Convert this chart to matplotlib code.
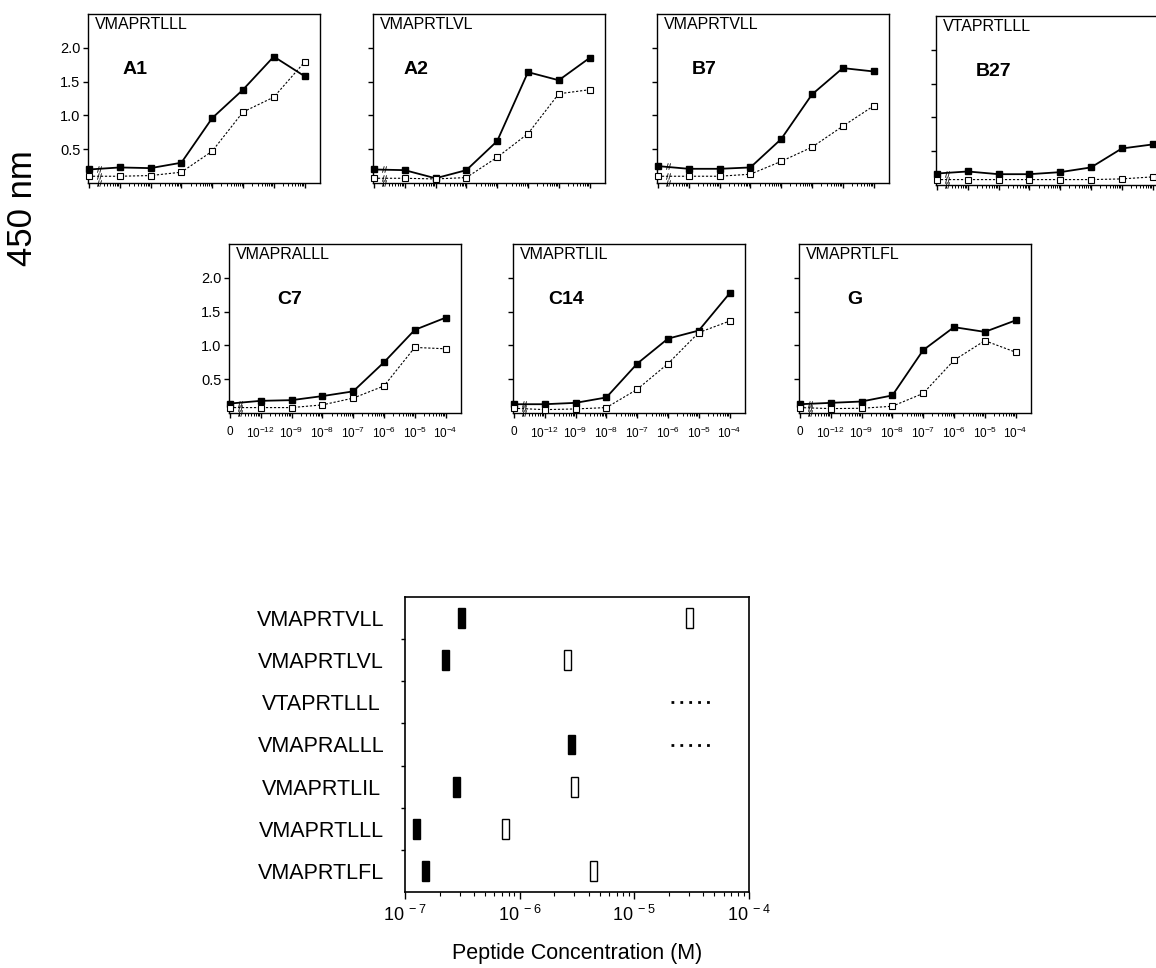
import numpy as np
import matplotlib.pyplot as plt

plt.rcParams['font.family'] = ['Liberation Sans', 'DejaVu Sans']
plt.rcParams['mathtext.fontset'] = 'custom'
plt.rcParams['mathtext.rm'] = 'Liberation Sans'
plt.rcParams['mathtext.it'] = 'Liberation Sans:italic'
plt.rcParams['mathtext.bf'] = 'Liberation Sans:bold'

# x categories of the titration panels
conc_labels = ['0', '$10^{-12}$', '$10^{-9}$', '$10^{-8}$', '$10^{-7}$',
               '$10^{-6}$', '$10^{-5}$', '$10^{-4}$']

# panel names / peptides
panel_names = ['A1', 'A2', 'B7', 'B27', 'C7', 'C14', 'G']
panel_peptides = ['VMAPRTLLL', 'VMAPRTLVL', 'VMAPRTVLL', 'VTAPRTLLL',
                  'VMAPRALLL', 'VMAPRTLIL', 'VMAPRTLFL']

# OD 450 nm, filled squares (solid) and open squares (dotted)
a1_filled = [0.20, 0.23, 0.22, 0.30, 0.96, 1.38, 1.87, 1.58]
a1_open = [0.10, 0.10, 0.11, 0.16, 0.47, 1.05, 1.27, 1.79]
a2_filled = [0.20, 0.19, 0.07, 0.19, 0.62, 1.64, 1.52, 1.85]
a2_open = [0.07, 0.07, 0.06, 0.08, 0.38, 0.73, 1.32, 1.38]
b7_filled = [0.25, 0.21, 0.21, 0.23, 0.65, 1.31, 1.70, 1.65]
b7_open = [0.10, 0.10, 0.10, 0.13, 0.32, 0.53, 0.84, 1.14]
b27_filled = [0.17, 0.20, 0.16, 0.16, 0.19, 0.26, 0.54, 0.60]
b27_open = [0.08, 0.08, 0.08, 0.08, 0.08, 0.08, 0.09, 0.12]
c7_filled = [0.14, 0.18, 0.19, 0.25, 0.32, 0.75, 1.23, 1.41]
c7_open = [0.08, 0.08, 0.08, 0.12, 0.22, 0.40, 0.97, 0.95]
c14_filled = [0.13, 0.13, 0.15, 0.23, 0.73, 1.10, 1.22, 1.77]
c14_open = [0.07, 0.05, 0.06, 0.08, 0.35, 0.73, 1.19, 1.36]
g_filled = [0.13, 0.15, 0.17, 0.26, 0.93, 1.27, 1.20, 1.37]
g_open = [0.08, 0.065, 0.07, 0.10, 0.29, 0.78, 1.07, 0.90]

filled_series = [a1_filled, a2_filled, b7_filled, b27_filled, c7_filled, c14_filled, g_filled]
open_series = [a1_open, a2_open, b7_open, b27_open, c7_open, c14_open, g_open]

# bottom chart: concentration for half-max response
bar_peptides = ['VMAPRTVLL', 'VMAPRTLVL', 'VTAPRTLLL', 'VMAPRALLL',
                'VMAPRTLIL', 'VMAPRTLLL', 'VMAPRTLFL']
filled_conc = [3.1e-7, 2.26e-7, np.nan, 2.85e-6, 2.83e-7, 1.25e-7, 1.5e-7]
open_conc = [3.03e-5, 2.6e-6, np.nan, np.nan, 3.0e-6, 7.5e-7, 4.43e-6]
dotted_start = [np.nan, np.nan, 2.1e-5, 2.1e-5, np.nan, np.nan, np.nan]
dotted_end = [np.nan, np.nan, 4.7e-5, 4.7e-5, np.nan, np.nan, np.nan]

W, H = 1156, 968
fig = plt.figure(figsize=(W / 100, H / 100), dpi=100)


def rect(x0, y0, w, h):
    return [x0 / W, 1 - (y0 + h) / H, w / W, h / H]


panel_pos = [(88, 14), (373, 14), (657, 14), (936, 16),
             (229, 244), (513, 244), (799, 244)]
label_x = [0.15, 0.13, 0.15, 0.17, 0.21, 0.15, 0.21]

x = np.arange(len(conc_labels))
minor = [i + np.log10(k) for i in range(7) for k in range(2, 10)]

for i in range(7):
    ax = fig.add_axes(rect(panel_pos[i][0], panel_pos[i][1], 232, 169))
    ax.plot(x, filled_series[i], '-', color='k', lw=1.3, marker='s', ms=4.5,
            mfc='k', mec='k', clip_on=False, zorder=3)
    ax.plot(x, open_series[i], ls=(0, (2, 1.6)), color='k', lw=0.8, marker='s',
            ms=4, mfc='white', mec='k', mew=0.8, clip_on=False, zorder=3)
    # axis break marks on the first segment of each line and on the x axis
    ax.plot([0.32, 0.32, 0.32], [filled_series[i][0], open_series[i][0], 0],
            ls='none', marker='$//$', ms=4.5, color='k', mew=0.1,
            clip_on=False, zorder=4)

    ax.set_xlim(-0.03, 7.5)
    ax.set_ylim(0, 2.5)
    ax.set_xticks(x)
    ax.set_xticks(minor, minor=True)
    ax.set_yticks([0.5, 1.0, 1.5, 2.0])
    ax.tick_params(axis='both', which='major', direction='out', length=3.5,
                   width=1, pad=2, labelsize=10.5)
    ax.tick_params(axis='x', which='minor', direction='out', length=2, width=0.7)
    if i in (0, 4):
        ax.set_yticklabels(['0.5', '1.0', '1.5', '2.0'])
    else:
        ax.set_yticklabels([])
    if i >= 4:
        ax.set_xticklabels(conc_labels, fontsize=8.5)
        ax.tick_params(axis='x', which='major', pad=6)
    else:
        ax.set_xticklabels([])
    for s in ax.spines.values():
        s.set_linewidth(1)
    ax.text(0.03, 0.985, panel_peptides[i], transform=ax.transAxes,
            fontsize=11.5, ha='left', va='top')
    ax.text(label_x[i], 0.67, panel_names[i], transform=ax.transAxes,
            fontsize=14, fontweight='bold', ha='left', va='center')

fig.text(23 / W, 1 - 208 / H, '450 nm', rotation=90, fontsize=25,
         ha='center', va='center')

# bottom chart
bx = fig.add_axes(rect(405, 597, 344, 295))
bx.set_xscale('log')
rows = np.arange(len(bar_peptides))
hw = 0.03
fc = np.array(filled_conc)
oc = np.array(open_conc)
m = ~np.isnan(fc)
bx.barh(rows[m], fc[m] * (10 ** hw - 10 ** -hw), left=fc[m] * 10 ** -hw,
        height=0.47, color='k', edgecolor='k', lw=1)
m = ~np.isnan(oc)
bx.barh(rows[m], oc[m] * (10 ** hw - 10 ** -hw), left=oc[m] * 10 ** -hw,
        height=0.47, color='white', edgecolor='k', lw=1)
for r in rows:
    if not np.isnan(dotted_start[r]):
        bx.plot([dotted_start[r], dotted_end[r]], [r, r], color='k',
                ls=(0, (1, 2.2)), lw=2)

bx.set_xlim(1e-7, 1e-4)
bx.set_ylim(6.5, -0.5)
bx.set_xticks([1e-7, 1e-6, 1e-5, 1e-4])
bx.set_xticklabels(['$10^{\\ -7}$', '$10^{\\ -6}$', '$10^{\\ -5}$', '$10^{\\ -4}$'],
                   fontsize=13)
bx.set_yticks(rows)
bx.set_yticklabels(bar_peptides, fontsize=15.5, ha='center')
bx.set_yticks(rows[:-1] + 0.5, minor=True)
bx.tick_params(axis='y', which='major', length=0, pad=84 * 0.72)
bx.tick_params(axis='y', which='minor', direction='out', length=3, width=1)
bx.tick_params(axis='x', which='major', direction='out', length=5, width=1, pad=4)
bx.tick_params(axis='x', which='minor', direction='out', length=3, width=0.8)
for s in bx.spines.values():
    s.set_linewidth(1.2)
bx.set_xlabel('Peptide Concentration (M)', fontsize=15.5, labelpad=13)

fig.savefig('out.png', dpi=100)
